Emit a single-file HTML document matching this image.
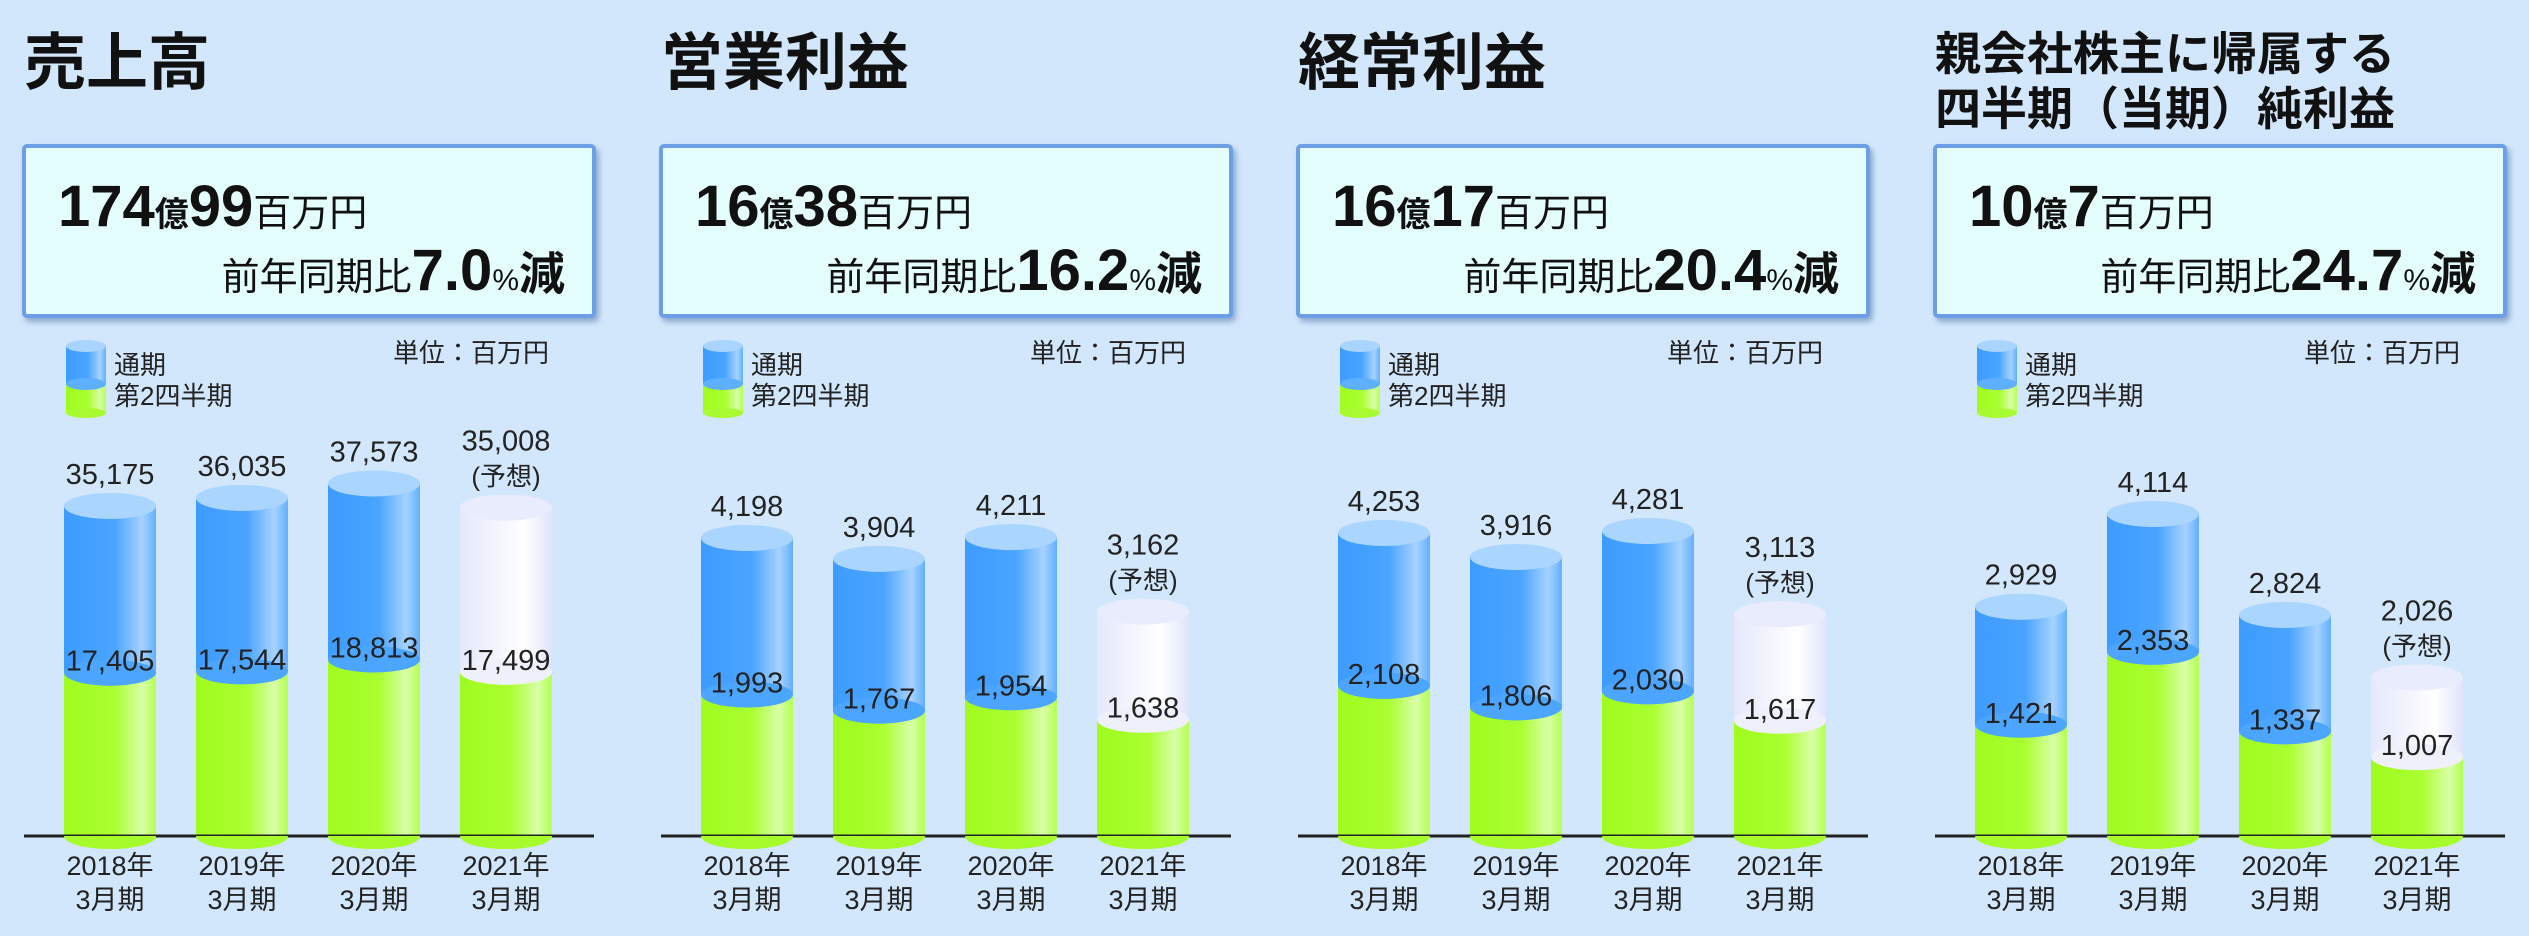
<!DOCTYPE html>
<html><head><meta charset="utf-8"><style>
body{margin:0;background:#d2e7fc;}
svg{display:block;font-family:"Liberation Sans","Noto Sans CJK JP",sans-serif;}
</style></head><body>
<svg id="chart" width="2529" height="936" viewBox="0 0 2529 936" xmlns="http://www.w3.org/2000/svg">
<defs>
<linearGradient id="gBlue" x1="0" x2="1"><stop offset="0" stop-color="#3d9cff"/><stop offset="0.55" stop-color="#4aa4ff"/><stop offset="0.85" stop-color="#a6d2ff"/><stop offset="1" stop-color="#62b0ff"/></linearGradient>
<linearGradient id="gGreen" x1="0" x2="1"><stop offset="0" stop-color="#a0fb1e"/><stop offset="0.55" stop-color="#aaff30"/><stop offset="0.85" stop-color="#d8ffa8"/><stop offset="1" stop-color="#b4ff50"/></linearGradient>
<linearGradient id="gWhite" x1="0" x2="1"><stop offset="0" stop-color="#e4e8fb"/><stop offset="0.7" stop-color="#ffffff"/><stop offset="1" stop-color="#dfe4fb"/></linearGradient>
<filter id="sh" x="-5%" y="-10%" width="110%" height="125%"><feDropShadow dx="3" dy="4" stdDeviation="3" flood-color="#5a7fb0" flood-opacity="0.6"/></filter>
</defs>
</svg>
<script>
const categories=["2018年","2019年","2020年","2021年"];
const totals1=[35175,36035,37573,35008];
const halves1=[17405,17544,18813,17499];
const totals2=[4198,3904,4211,3162];
const halves2=[1993,1767,1954,1638];
const totals3=[4253,3916,4281,3113];
const halves3=[2108,1806,2030,1617];
const totals4=[2929,4114,2824,2026];
const halves4=[1421,2353,1337,1007];
const forecastIndex=3;

const panels=[
 {title:["売上高"],a:"174",b:"99",pct:"7.0",totals:totals1,halves:halves1,k:330/35175},
 {title:["営業利益"],a:"16",b:"38",pct:"16.2",totals:totals2,halves:halves2,k:298/4198},
 {title:["経常利益"],a:"16",b:"17",pct:"20.4",totals:totals3,halves:halves3,k:303/4253},
 {title:["親会社株主に帰属する","四半期（当期）純利益"],a:"10",b:"7",pct:"24.7",totals:totals4,halves:halves4,k:322/4114}
];
const svg=document.getElementById('chart');
const NS="http://www.w3.org/2000/svg";
function mk(tag,attrs,parent){const e=document.createElementNS(NS,tag);for(const k in attrs)e.setAttribute(k,attrs[k]);(parent||svg).appendChild(e);return e;}
function fmt(v){return v.toLocaleString('en-US');}
const BASE=836, BW=92, RY=13;

panels.forEach((p,pi)=>{
 const px=pi*637;
 const g=mk('g',{});
 
 
 if(p.title.length===1){
  const t=mk('text',{x:px+24,y:84,'font-size':62,'font-weight':'bold',fill:'#111'},g);t.textContent=p.title[0];
  
 }else{
  p.title.forEach((s,i)=>{const t=mk('text',{x:px+24,y:70+i*55,'font-size':46,'font-weight':'bold',fill:'#111'},g);t.textContent=s;
  });
 }
 const box=mk('rect',{x:px+24,y:146,width:570,height:170,fill:'#e4fdfd',stroke:'#6d9fe6','stroke-width':4,rx:3,filter:'url(#sh)'},g);
 
 const l1=mk('text',{x:px+58,y:226,fill:'#111','font-weight':'bold'},g);
 
 l1.innerHTML=`<tspan font-size="58">${p.a}</tspan><tspan font-size="34">億</tspan><tspan font-size="58">${p.b}</tspan><tspan font-size="38" font-weight="normal">百万円</tspan>`;
 const l2=mk('text',{x:px+565,y:290,fill:'#111','text-anchor':'end'},g);
 
 l2.innerHTML=`<tspan font-size="38">前年同期比</tspan><tspan font-size="58" font-weight="bold">${p.pct}</tspan><tspan font-size="30">%</tspan><tspan font-size="46" font-weight="bold">減</tspan>`;
 const lx=px+66;
 const lg=mk('g',{},g);
 mk('rect',{x:lx,y:346,width:40,height:38,fill:'url(#gBlue)'},lg);
 mk('ellipse',{cx:lx+20,cy:346,rx:20,ry:6,fill:'#a8d4ff'},lg);
 mk('rect',{x:lx,y:384,width:40,height:30,fill:'url(#gGreen)'},lg);
 mk('ellipse',{cx:lx+20,cy:384,rx:20,ry:6,fill:'#5eb0ff'},lg);
 mk('ellipse',{cx:lx+20,cy:413,rx:20,ry:5,fill:'#a8fb30'},lg);
 const le1=mk('text',{x:lx+48,y:374,'font-size':26,fill:'#222'},lg);le1.textContent='通期';
 
 const le2=mk('text',{x:lx+48,y:405,'font-size':26,fill:'#222'},lg);le2.textContent='第2四半期';
 
 const un=mk('text',{x:px+549,y:362,'font-size':26,fill:'#222','text-anchor':'end'},g);un.textContent='単位：百万円';
 
 const y=v=>BASE-v*p.k;
 p.totals.forEach((tv,i)=>{
  const cx=px+110+132*i, x0=cx-BW/2;
  const hv=p.halves[i], ty=y(tv), hy=y(hv);
  const fc=i===forecastIndex;
  const bg=mk('g',{},g);
  
  
  mk('ellipse',{cx:cx,cy:BASE,rx:BW/2,ry:RY,fill:'#a4fb26'},bg);
  mk('rect',{x:x0,y:hy,width:BW,height:BASE-hy,fill:'url(#gGreen)'},bg);
  mk('rect',{x:x0,y:ty,width:BW,height:hy-ty,fill:fc?'url(#gWhite)':'url(#gBlue)'},bg);
  mk('ellipse',{cx:cx,cy:hy,rx:BW/2,ry:RY,fill:fc?'#eef0fc':'#4ca5ff'},bg);
  mk('ellipse',{cx:cx,cy:ty,rx:BW/2,ry:RY,fill:fc?'#e8ecfc':'#a9d5ff'},bg);
  const tl=mk('text',{x:cx,y:fc?ty-57:ty-22,'font-size':29,fill:'#222','text-anchor':'middle'},bg);tl.textContent=fmt(tv);
  
  if(fc){const f=mk('text',{x:cx,y:ty-22,'font-size':26,fill:'#222','text-anchor':'middle'},bg);f.textContent='(予想)';
   }
  const hl=mk('text',{x:cx,y:hy-2,'font-size':29,fill:'#222','text-anchor':'middle'},bg);hl.textContent=fmt(hv);
  
  const c1=mk('text',{x:cx,y:875,'font-size':27,fill:'#222','text-anchor':'middle'},g);c1.textContent=categories[i];
  
  const c2=mk('text',{x:cx,y:909,'font-size':27,fill:'#222','text-anchor':'middle'},g);c2.textContent='3月期';
  
 });
 const ax=mk('line',{x1:px+24,x2:px+594,y1:BASE,y2:BASE,stroke:'#222','stroke-width':3},g);
 
 p.totals.forEach((tv,i)=>{const cx=px+110+132*i;
  const e=mk('path',{d:`M${cx-BW/2},${BASE} A${BW/2},${RY} 0 0 0 ${cx+BW/2},${BASE} Z`,fill:'#a6fb2a'},g);
  });
});
</script>
</body></html>
